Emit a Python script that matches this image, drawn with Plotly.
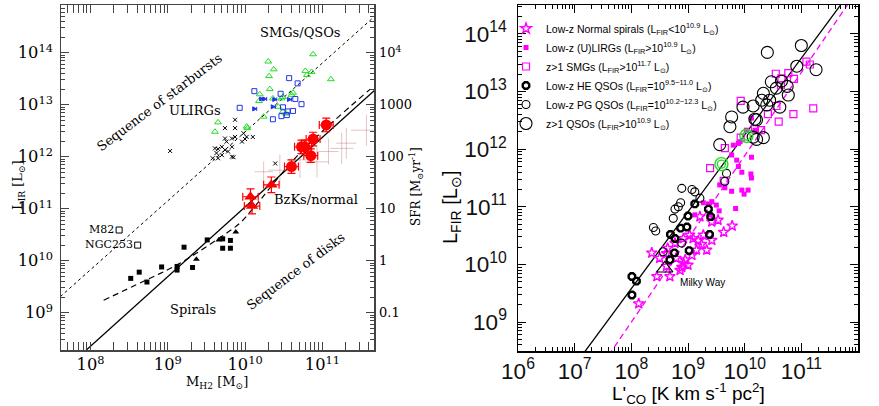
import plotly.graph_objects as go

W, H = 879, 406

# ---------------- Left panel data (log10 values) ----------------
# ULIRGs (black crosses)
ulirg_logM = [9.61, 9.65, 9.70, 9.74, 9.63, 9.70, 9.78, 9.83, 9.83, 9.85, 9.58, 9.65, 9.74,
              9.76, 9.83, 9.87, 9.87, 9.96, 9.98, 10.02, 10.10, 10.00, 9.74, 9.87, 10.39, 9.03]
ulirg_logL = [12.16, 12.15, 12.19, 12.13, 12.07, 12.03, 12.10, 12.19, 12.00, 11.99, 11.97, 11.97, 12.35,
              12.29, 12.35, 12.55, 12.38, 12.29, 12.45, 12.38, 12.38, 12.34, 12.55, 12.71, 11.87, 12.11]
# SMGs (green open triangles)
smg_logM = [9.65, 9.61, 10.02, 10.03, 10.30, 10.37, 10.31, 10.32, 10.19, 10.18, 10.24, 10.36,
            10.43, 10.47, 10.49, 10.49, 10.53, 10.60, 10.62, 10.78, 10.80, 10.86, 10.88, 11.11]
smg_logL = [12.66, 12.48, 12.58, 12.55, 13.83, 13.68, 13.55, 13.30, 13.20, 13.07, 12.77, 13.12,
            12.96, 13.12, 13.15, 12.87, 12.83, 13.19, 13.23, 13.65, 13.57, 13.63, 13.97, 13.49]
# QSOs (blue open squares)
qso_logM = [9.93, 10.12, 10.36, 10.46, 10.47, 10.49, 10.55, 10.57, 10.62, 10.65, 10.68, 10.73, 10.54]
qso_logL = [12.94, 13.26, 12.72, 13.21, 12.78, 12.95, 12.87, 13.51, 12.88, 13.11, 13.41, 13.01, 12.80]
# QSOs with lower limits in gas mass (blue arrows)
qsolim_logM = [10.24, 10.28, 10.15, 10.39, 10.60, 10.41]
qsolim_logL = [13.11, 13.11, 12.92, 12.96, 13.10, 13.10]
# BzK galaxies (red circles) and normal z~0.5 galaxies (red triangles)
bzk_logM = [10.60, 10.73, 10.77, 10.88, 10.85, 11.05]
bzk_logL = [11.81, 12.19, 12.19, 12.34, 12.02, 12.61]
bzk_xerr = [0.09, 0.09, 0.09, 0.09, 0.09, 0.09]
bzk_yerr = [0.13, 0.13, 0.13, 0.13, 0.13, 0.13]
nrm_logM = [10.07, 10.09, 10.34]
nrm_logL = [11.23, 11.05, 11.46]
nrm_xerr = [0.10, 0.10, 0.10]
nrm_yerr = [0.15, 0.15, 0.15]
# faint uncertain estimates (pale crosses)
pale_logM = [10.24, 10.45, 10.71, 10.93, 11.08, 11.25, 11.31, 11.57]
pale_logL = [11.71, 11.74, 11.94, 11.90, 12.10, 12.16, 12.26, 12.51]
pale_xerr = [0.12, 0.15, 0.15, 0.15, 0.13, 0.15, 0.13, 0.20]
pale_yerr = [0.20, 0.30, 0.35, 0.30, 0.25, 0.30, 0.30, 0.30]
# local spirals (black squares / triangles)
spi_logM = [8.52, 8.63, 8.73, 8.92, 9.12, 9.12, 9.21, 9.32, 9.51, 9.71, 9.71, 9.81, 9.81]
spi_logL = [9.66, 9.78, 9.59, 9.88, 9.89, 9.82, 10.26, 9.87, 10.40, 10.42, 10.24, 10.39, 10.24]
spit_logM = [9.37, 9.66, 9.88]
spit_logL = [10.03, 10.40, 10.55]
# local starbursts
lsb_names = ["M82", "NGC253"]
lsb_logM = [8.37, 8.61]
lsb_logL = [10.59, 10.30]
# relations
disk_logM = [7.60, 11.70]
disk_logL = [7.82, 13.31]
sb_logM = [7.61, 11.64]
sb_logL = [9.31, 14.65]
kenn_logM = [8.17, 8.68, 9.12, 9.63, 9.93, 10.09, 10.71, 11.62]
kenn_logL = [9.24, 9.60, 9.92, 10.40, 10.72, 10.98, 12.07, 13.30]
sfr_ticks = [0.1, 1, 10, 100, 1000, 10000]
sfr_text = ["0.1", "1", "10", "100", "1000", "10<sup>4</sup>"]

# ---------------- Right panel data (log10 values) ----------------
spir_logC = [9.21, 9.42, 9.78, 9.27, 9.09, 9.18, 9.24, 9.33, 9.15, 9.03, 8.92, 8.77, 8.64, 8.95, 8.92,
             9.00, 8.89, 8.86, 8.62, 8.36, 8.45, 8.68, 8.13, 8.62, 8.50, 9.53, 9.63, 9.42, 9.07, 8.79]
spir_logF = [10.83, 10.74, 10.67, 10.51, 10.45, 10.41, 10.35, 10.25, 10.25, 10.51, 10.45, 10.37, 10.28, 10.08, 10.02,
             9.99, 9.95, 9.90, 10.19, 10.20, 9.79, 9.79, 9.32, 9.97, 10.11, 10.77, 10.56, 10.42, 10.16, 10.11]
lirg_logC = [10.12, 10.03, 10.18, 9.80, 9.89, 9.92, 9.77, 9.86, 10.12, 9.89, 9.95, 10.11, 10.12, 9.65,
             9.77, 9.95, 10.06, 9.56, 9.99, 9.42, 9.50, 9.55, 9.84, 9.27, 9.36, 9.12, 9.39]
lirg_logF = [12.54, 12.33, 12.33, 12.07, 12.10, 12.13, 11.90, 11.81, 11.86, 11.70, 11.60, 11.57, 11.50, 11.33,
             11.27, 11.29, 11.29, 11.38, 11.22, 11.09, 11.03, 10.93, 10.97, 11.07, 11.05, 10.86, 10.86]
smgr_logC = [11.09, 11.15, 10.55, 10.77, 10.87, 10.65, 10.64, 9.93, 11.21, 10.86, 10.41, 10.60, 10.56,
             10.29, 10.18, 9.93, 9.65, 9.39, 9.63]
smgr_logF = [13.52, 13.47, 13.31, 13.32, 13.22, 13.23, 13.11, 12.84, 12.71, 12.61, 12.61, 12.48, 12.75,
             12.33, 12.35, 12.20, 12.02, 11.67, 11.45]
he_logC = [9.12, 9.36, 9.40, 9.00, 8.98, 8.87, 9.38, 8.69, 8.77, 9.02, 8.76, 8.68, 8.01, 8.09, 8.01]
he_logF = [11.05, 10.96, 10.83, 10.84, 10.65, 10.63, 10.52, 10.52, 10.45, 10.24, 10.20, 10.08, 9.79, 9.71, 9.47]
pg_logC = [9.68, 9.65, 8.89, 9.12, 9.07, 9.21, 8.83, 8.87, 8.77, 8.74, 8.39, 8.43, 8.89, 8.56]
pg_logF = [11.58, 11.44, 11.32, 11.26, 11.30, 11.15, 11.00, 11.07, 10.96, 10.80, 10.64, 10.58, 10.37, 10.22]
hq_logC = [11.00, 10.40, 10.92, 11.26, 10.47, 10.65, 10.75, 10.56, 10.77, 10.33, 10.30, 10.39, 10.62,
           10.15, 9.97, 9.77, 10.21, 9.74, 9.56, 10.15, 10.33, 10.21, 10.18, 10.44]
hq_logF = [13.80, 13.68, 13.44, 13.38, 13.17, 13.18, 13.09, 13.06, 12.94, 12.97, 12.85, 12.77, 12.73,
           12.75, 12.73, 12.56, 12.51, 12.39, 12.08, 12.21, 12.20, 12.17, 12.52, 12.85]
grn_logC = [10.03, 9.59]
grn_logF = [12.23, 11.74]
mw_logC = [8.59]
mw_logF = [9.93]
fit_all_logC = [7.10, 11.75]
fit_all_logF = [8.38, 14.58]
fit_gal_logC = [7.60, 11.85]
fit_gal_logF = [8.42, 14.56]

legend_names = [
    "Low-z Normal spirals (L<sub>FIR</sub>&lt;10<sup>10.9</sup> L<sub>⊙</sub>)",
    "Low-z (U)LIRGs (L<sub>FIR</sub>&gt;10<sup>10.9</sup> L<sub>⊙</sub>)",
    "z&gt;1 SMGs (L<sub>FIR</sub>&gt;10<sup>11.7</sup> L<sub>⊙</sub>)",
    "Low-z HE QSOs (L<sub>FIR</sub>=10<sup>9.5−11.0</sup> L<sub>⊙</sub>)",
    "Low-z PG QSOs (L<sub>FIR</sub>=10<sup>10.2−12.3</sup> L<sub>⊙</sub>)",
    "z&gt;1 QSOs (L<sub>FIR</sub>&gt;10<sup>10.9</sup> L<sub>⊙</sub>)",
]


def lin(v):
    return [10 ** a for a in v]


def err_plus(v, d):
    return [10 ** a * (10 ** e - 1) for a, e in zip(v, d)]


def err_minus(v, d):
    return [10 ** a * (1 - 10 ** -e) for a, e in zip(v, d)]


fig = go.Figure()
L = dict(xaxis="x", yaxis="y", showlegend=False, hoverinfo="skip")
R = dict(xaxis="x2", yaxis="y2", hoverinfo="skip")

# ---- left panel ----
fig.add_trace(go.Scatter(x=lin(sb_logM), y=lin(sb_logL), mode="lines",
                         line=dict(color="black", width=1, dash="dot"), **L))
fig.add_trace(go.Scatter(x=lin(disk_logM), y=lin(disk_logL), mode="lines",
                         line=dict(color="black", width=1.3), **L))
fig.add_trace(go.Scatter(x=lin(kenn_logM), y=lin(kenn_logL), mode="lines", line_shape="spline",
                         line=dict(color="black", width=1.2, dash="6px,4px"), **L))
fig.add_trace(go.Scatter(x=lin(pale_logM), y=lin(pale_logL), mode="markers",
                         marker=dict(size=1, opacity=0),
                         error_x=dict(type="data", array=err_plus(pale_logM, pale_xerr),
                                      arrayminus=err_minus(pale_logM, pale_xerr),
                                      color="rgba(170,90,90,0.35)", thickness=1, width=0),
                         error_y=dict(type="data", array=err_plus(pale_logL, pale_yerr),
                                      arrayminus=err_minus(pale_logL, pale_yerr),
                                      color="rgba(170,90,90,0.35)", thickness=1, width=0), **L))
fig.add_trace(go.Scatter(x=lin(ulirg_logM), y=lin(ulirg_logL), mode="markers",
                         marker=dict(symbol="x-thin-open", size=4, color="black",
                                     line=dict(color="black", width=1)), **L))
fig.add_trace(go.Scatter(x=lin(smg_logM), y=lin(smg_logL), mode="markers",
                         marker=dict(symbol="triangle-up-open", size=6, color="#22dd22",
                                     line=dict(color="#22dd22", width=1)), **L))
fig.add_trace(go.Scatter(x=lin(qso_logM), y=lin(qso_logL), mode="markers",
                         marker=dict(symbol="square-open", size=5, color="#2233ee",
                                     line=dict(color="#2233ee", width=1)), **L))
fig.add_trace(go.Scatter(x=lin(qsolim_logM), y=lin(qsolim_logL), mode="markers",
                         marker=dict(symbol="arrow-bar-right", size=4, color="#2233ee",
                                     line=dict(color="#2233ee", width=1)), **L))
fig.add_trace(go.Scatter(x=lin(nrm_logM), y=lin(nrm_logL), mode="markers",
                         marker=dict(symbol="triangle-up", size=11, color="#ff0000"),
                         error_x=dict(type="data", array=err_plus(nrm_logM, nrm_xerr),
                                      arrayminus=err_minus(nrm_logM, nrm_xerr),
                                      color="#ff0000", thickness=1.2, width=4),
                         error_y=dict(type="data", array=err_plus(nrm_logL, nrm_yerr),
                                      arrayminus=err_minus(nrm_logL, nrm_yerr),
                                      color="#ff0000", thickness=1.2, width=4), **L))
fig.add_trace(go.Scatter(x=lin(bzk_logM), y=lin(bzk_logL), mode="markers",
                         marker=dict(symbol="circle", size=11, color="#ff0000"),
                         error_x=dict(type="data", array=err_plus(bzk_logM, bzk_xerr),
                                      arrayminus=err_minus(bzk_logM, bzk_xerr),
                                      color="#ff0000", thickness=1.2, width=4),
                         error_y=dict(type="data", array=err_plus(bzk_logL, bzk_yerr),
                                      arrayminus=err_minus(bzk_logL, bzk_yerr),
                                      color="#ff0000", thickness=1.2, width=4), **L))
fig.add_trace(go.Scatter(x=lin(spi_logM), y=lin(spi_logL), mode="markers",
                         marker=dict(symbol="square", size=5, color="black"), **L))
fig.add_trace(go.Scatter(x=lin(spit_logM), y=lin(spit_logL), mode="markers",
                         marker=dict(symbol="triangle-up", size=6, color="black"), **L))
fig.add_trace(go.Scatter(x=lin(lsb_logM), y=lin(lsb_logL), mode="markers+text",
                         text=lsb_names, textposition="middle left",
                         textfont=dict(family="DejaVu Serif", size=11, color="black"),
                         marker=dict(symbol="square-open", size=6, color="black",
                                     line=dict(color="black", width=1)), **L))
# SFR axis carrier
fig.add_trace(go.Scatter(x=[10 ** 9], y=[1], mode="markers", marker=dict(size=1, opacity=0),
                         xaxis="x", yaxis="y3", showlegend=False, hoverinfo="skip"))

# ---- right panel ----
fig.add_trace(go.Scatter(x=lin(fit_all_logC), y=lin(fit_all_logF), mode="lines", showlegend=False,
                         line=dict(color="black", width=1.3), **R))
fig.add_trace(go.Scatter(x=lin(fit_gal_logC), y=lin(fit_gal_logF), mode="lines", showlegend=False,
                         line=dict(color="#ff00ff", width=1.3, dash="6px,4px"), **R))
fig.add_trace(go.Scatter(x=lin(spir_logC), y=lin(spir_logF), mode="markers", name=legend_names[0],
                         marker=dict(symbol="star-open", size=8, color="#ff00ff",
                                     line=dict(color="#ff00ff", width=1.4)), **R))
fig.add_trace(go.Scatter(x=lin(lirg_logC), y=lin(lirg_logF), mode="markers", name=legend_names[1],
                         marker=dict(symbol="square", size=5, color="#ff00ff"), **R))
fig.add_trace(go.Scatter(x=lin(smgr_logC), y=lin(smgr_logF), mode="markers", name=legend_names[2],
                         marker=dict(symbol="square-open", size=7, color="#ff00ff",
                                     line=dict(color="#ff00ff", width=1.2)), **R))
fig.add_trace(go.Scatter(x=lin(he_logC), y=lin(he_logF), mode="markers", name=legend_names[3],
                         marker=dict(symbol="octagon-open", size=7, color="black",
                                     line=dict(color="black", width=2.4)), **R))
fig.add_trace(go.Scatter(x=lin(pg_logC), y=lin(pg_logF), mode="markers", name=legend_names[4],
                         marker=dict(symbol="circle-open", size=8, color="black",
                                     line=dict(color="black", width=1.1)), **R))
fig.add_trace(go.Scatter(x=lin(hq_logC), y=lin(hq_logF), mode="markers", name=legend_names[5],
                         marker=dict(symbol="circle-open", size=12, color="black",
                                     line=dict(color="black", width=1.1)), **R))
fig.add_trace(go.Scatter(x=lin(grn_logC), y=lin(grn_logF), mode="markers", showlegend=False,
                         marker=dict(symbol="circle-open", size=13, color="#22dd22",
                                     line=dict(color="#22dd22", width=1.4)), **R))
fig.add_trace(go.Scatter(x=lin(grn_logC), y=lin(grn_logF), mode="markers", showlegend=False,
                         marker=dict(symbol="circle-open", size=8, color="#22dd22",
                                     line=dict(color="#22dd22", width=1.4)), **R))
fig.add_trace(go.Scatter(x=lin(mw_logC), y=lin(mw_logF), mode="markers+text", showlegend=False,
                         text=["  Milky Way"], textposition="bottom right",
                         textfont=dict(family="Liberation Sans", size=10, color="black"),
                         marker=dict(symbol="triangle-up-open", size=14, color="black",
                                     line=dict(color="black", width=1.1)), **R))


def px(x):
    return x / W


def py(y):
    return 1 - y / H


serif = "DejaVu Serif"
sans = "Liberation Sans"
ann = []


def add_ann(x, y, text, size, family, angle=0, xanchor="center"):
    ann.append(dict(x=px(x), y=py(y), xref="paper", yref="paper", text=text, showarrow=False,
                    textangle=angle, xanchor=xanchor, yanchor="middle",
                    font=dict(family=family, size=size, color="black")))


add_ann(300, 32, "SMGs/QSOs", 13, serif)
add_ann(159, 102, "Sequence of starbursts", 13, serif, angle=-37)
add_ann(195, 110, "ULIRGs", 13, serif)
add_ann(316, 199, "BzKs/normal", 13, serif)
add_ann(193, 309, "Spirals", 13, serif)
add_ann(295, 271, "Sequence of disks", 13, serif, angle=-37)
add_ann(19, 185, "L<sub>IR</sub> [L<sub>⊙</sub>]", 13, serif, angle=-90)
add_ann(217, 382, "M<sub>H2</sub> [M<sub>⊙</sub>]", 13, serif)
add_ann(416, 187, "SFR [M<sub>⊙</sub>yr<sup>-1</sup>]", 12, serif, angle=-90)
add_ann(451, 207, "L<sub>FIR</sub> [L<sub>⊙</sub>]", 20, sans, angle=-90)
add_ann(688, 393, "L'<sub>CO</sub> [K km s<sup>-1</sup> pc<sup>2</sup>]", 19, sans)

minor_l = dict(ticks="inside", ticklen=4, dtick="D1", tickcolor="#444", showgrid=False)
minor_r = dict(ticks="inside", ticklen=4, dtick="D1", tickcolor="black", showgrid=False)

fig.update_layout(
    template="none",
    width=W, height=H, margin=dict(l=0, r=0, t=0, b=0, autoexpand=False),
    paper_bgcolor="white", plot_bgcolor="white",
    annotations=ann,
    xaxis=dict(domain=[61 / W, 374 / W], anchor="y", type="log", range=[7.618, 11.668],
               dtick=1, exponentformat="power", showgrid=False, zeroline=False, automargin=False,
               ticks="inside", ticklen=8, tickcolor="#444", showline=True, linecolor="#444",
               linewidth=1.5, mirror="allticks", minor=minor_l,
               tickfont=dict(family=serif, size=13, color="black")),
    yaxis=dict(domain=[1 - 350 / H, 1 - 5 / H], anchor="x", type="log", range=[8.283, 14.917],
               dtick=1, exponentformat="power", showgrid=False, zeroline=False, automargin=False,
               ticks="inside", ticklen=8, tickcolor="#444", showline=True, linecolor="#444",
               linewidth=1.5, mirror=True, minor=minor_l, ticklabelstandoff=4,
               tickfont=dict(family=serif, size=13, color="black")),
    yaxis3=dict(overlaying="y", anchor="x", side="right", type="log", range=[-1.717, 4.917],
                tickmode="array", tickvals=sfr_ticks, ticktext=sfr_text, showgrid=False, zeroline=False,
                automargin=False, ticks="inside", ticklen=8, tickcolor="#444", minor=minor_l,
                ticklabelstandoff=4, tickfont=dict(family=serif, size=13, color="black")),
    xaxis2=dict(domain=[518 / W, 858 / W], anchor="y2", type="log", range=[6, 12],
                dtick=1, exponentformat="power", showgrid=False, zeroline=False, automargin=False,
                ticks="inside", ticklen=8, tickcolor="black", showline=True, linecolor="black",
                linewidth=1.5, mirror="allticks", minor=minor_r,
                tickfont=dict(family=sans, size=18, color="#111")),
    yaxis2=dict(domain=[1 - 351 / H, 1 - 5 / H], anchor="x2", type="log", range=[8.497, 14.503],
                dtick=1, exponentformat="power", showgrid=False, zeroline=False, automargin=False,
                ticks="inside", ticklen=8, tickcolor="black", showline=True, linecolor="black",
                linewidth=1.5, mirror="allticks", minor=minor_r, ticklabelstandoff=6,
                tickfont=dict(family=sans, size=18, color="#111")),
    legend=dict(x=506 / W, y=1 - 14 / H, xanchor="left", yanchor="top", bgcolor="rgba(0,0,0,0)",
                font=dict(family=sans, size=10.5, color="black"), itemwidth=30, tracegroupgap=0),
    showlegend=True,
)

fig.write_html("out.html", config={"displayModeBar": False, "staticPlot": True},
               post_script="document.body.style.margin='0';document.body.style.padding='0';"
                           "document.documentElement.style.overflow='hidden';")
